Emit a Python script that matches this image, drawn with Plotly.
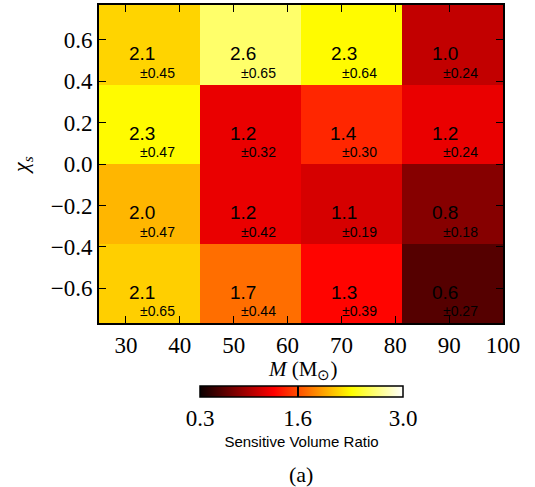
import plotly.graph_objects as go

# Data
mass_edges = [25, 43.75, 62.5, 81.25, 100]
chi_edges = [-0.767, -0.383, 0.0, 0.383, 0.767]
# rows from bottom (chi low) to top (chi high); columns M low -> high
ratio = [
    [2.12, 1.73, 1.30, 0.60],
    [2.02, 1.20, 1.12, 0.80],
    [2.30, 1.20, 1.44, 1.20],
    [2.14, 2.60, 2.30, 1.04],
]
errors = [
    [0.65, 0.44, 0.39, 0.27],
    [0.47, 0.42, 0.19, 0.18],
    [0.47, 0.32, 0.30, 0.24],
    [0.45, 0.65, 0.64, 0.24],
]
cbar_ticks = [0.3, 1.6, 3.0]
zmin, zmax = 0.3, 3.0

hot = [
    [0.0, "rgb(10,0,0)"],
    [0.365079, "rgb(255,0,0)"],
    [0.746032, "rgb(255,255,0)"],
    [1.0, "rgb(255,255,255)"],
]

W, H = 535, 487
L, R, T, B = 99, 32, 5, 164
pw, ph = W - L - R, H - T - B


def px_x(p):
    return (p - L) / pw


def px_y(p):
    return (T + ph - p) / ph


fig = go.Figure()
fig.add_trace(go.Heatmap(
    x=mass_edges, y=chi_edges, z=ratio,
    zmin=zmin, zmax=zmax, colorscale=hot,
    hoverinfo="skip",
    colorbar=dict(
        orientation="h",
        x=px_x(301.5), xanchor="center",
        y=px_y(386), yanchor="top",
        len=203, lenmode="pixels",
        thickness=11, thicknessmode="pixels",
        outlinewidth=1.5, outlinecolor="black",
        tickvals=cbar_ticks, ticktext=["%.1f" % v for v in cbar_ticks],
        ticks="inside", ticklen=11, tickcolor="black", tickwidth=1.5,
        tickfont=dict(family="Liberation Serif", size=23, color="black"),
        title=dict(text="Sensitive Volume Ratio", side="bottom",
                   font=dict(family="Liberation Sans", size=15, color="black")),
        xpad=0, ypad=0,
    ),
))

annotations = []
for i in range(len(chi_edges) - 1):
    yc = (chi_edges[i] + chi_edges[i + 1]) / 2
    for j in range(len(mass_edges) - 1):
        xc = (mass_edges[j] + mass_edges[j + 1]) / 2
        annotations.append(dict(
            x=xc, y=yc, xref="x", yref="y", text="%.1f" % ratio[i][j],
            showarrow=False, xshift=-8, yshift=-9,
            font=dict(family="Liberation Sans", size=19, color="black")))
        annotations.append(dict(
            x=xc, y=yc, xref="x", yref="y", text="\u00b1%.2f" % errors[i][j],
            showarrow=False, xshift=8, yshift=-28,
            font=dict(family="Liberation Sans", size=14, color="black")))

annotations.append(dict(
    x=px_x(301), y=px_y(475), xref="paper", yref="paper",
    xanchor="center", yanchor="middle",
    text="(a)", showarrow=False,
    font=dict(family="Liberation Serif", size=22, color="black")))
annotations.append(dict(
    x=px_x(302), y=px_y(370), xref="paper", yref="paper",
    xanchor="center", yanchor="middle",
    text="<i>M</i> (M<sub>\u2299</sub>)", showarrow=False,
    font=dict(family="Liberation Serif", size=21, color="black")))
annotations.append(dict(
    x=px_x(22), y=px_y(165), xref="paper", yref="paper",
    xanchor="center", yanchor="middle", textangle=-90,
    text="<i>\u03c7<sub>s</sub></i>", showarrow=False,
    font=dict(family="Liberation Serif", size=22, color="black")))

axis_common = dict(
    showline=True, linecolor="black", linewidth=2, mirror="ticks",
    ticks="inside", ticklen=7, tickwidth=1.2, tickcolor="black",
    showgrid=False, zeroline=False, automargin=False,
    tickfont=dict(family="Liberation Serif", size=23, color="black"),
)

fig.update_layout(
    width=W, height=H,
    margin=dict(l=L, r=R, t=T, b=B, autoexpand=False),
    paper_bgcolor="white", plot_bgcolor="white",
    xaxis=dict(range=[25, 100], dtick=10, tick0=0, **axis_common),
    yaxis=dict(range=[-0.767, 0.767], dtick=0.2, tick0=0, tickformat=".1f",
               **axis_common),
    annotations=annotations,
    showlegend=False,
)

fig.write_html("out.html",
               config={"displayModeBar": False},
               post_script="document.body.style.margin='0px';")
